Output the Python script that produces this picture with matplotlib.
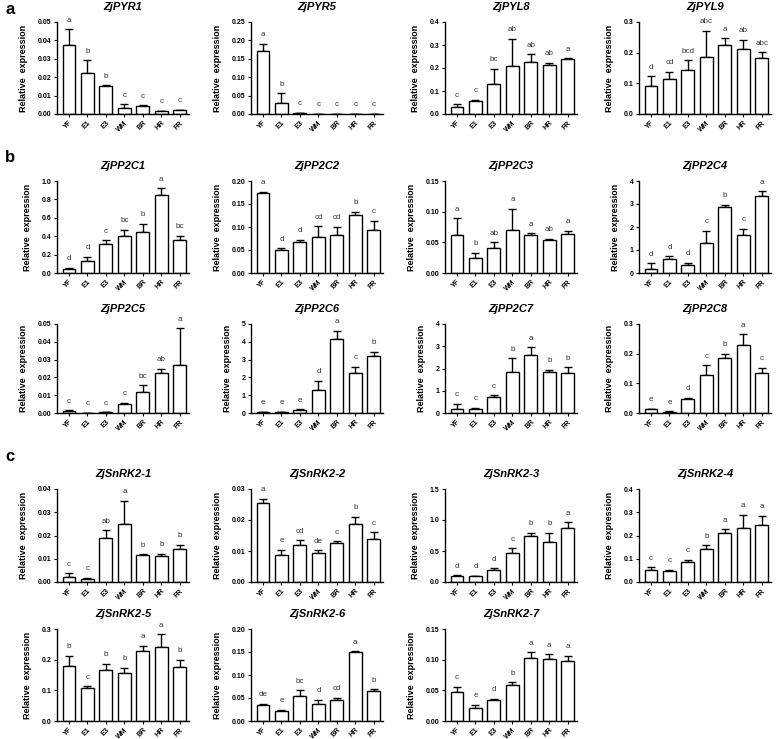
import numpy as np
import matplotlib
matplotlib.use("Agg")
import matplotlib.pyplot as plt

plt.rcParams['font.family'] = ['Liberation Sans', 'DejaVu Sans']

stages = ['YF', 'E1', 'E3', 'WM', 'BR', 'HR', 'FR']

genes = ['ZjPYR1', 'ZjPYR5', 'ZjPYL8', 'ZjPYL9',
         'ZjPP2C1', 'ZjPP2C2', 'ZjPP2C3', 'ZjPP2C4',
         'ZjPP2C5', 'ZjPP2C6', 'ZjPP2C7', 'ZjPP2C8',
         'ZjSnRK2-1', 'ZjSnRK2-2', 'ZjSnRK2-3', 'ZjSnRK2-4',
         'ZjSnRK2-5', 'ZjSnRK2-6', 'ZjSnRK2-7']

pyr1_mean = [0.0375, 0.0225, 0.0153, 0.0032, 0.0042, 0.0016, 0.0020]
pyr1_sd = [0.0085, 0.0068, 0.0002, 0.0020, 0.0006, 0.0002, 0.0004]
pyr1_let = ['a', 'b', 'b', 'c', 'c', 'c', 'c']

pyr5_mean = [0.171, 0.030, 0.002, 0.0005, 0.0003, 0.0003, 0.0003]
pyr5_sd = [0.020, 0.026, 0.002, 0.0, 0.0, 0.0, 0.0]
pyr5_let = ['a', 'b', 'c', 'c', 'c', 'c', 'c']

pyl8_mean = [0.030, 0.055, 0.130, 0.207, 0.225, 0.212, 0.238]
pyl8_sd = [0.012, 0.008, 0.067, 0.120, 0.035, 0.010, 0.005]
pyl8_let = ['c', 'c', 'bc', 'ab', 'ab', 'ab', 'a']

pyl9_mean = [0.092, 0.115, 0.144, 0.187, 0.224, 0.212, 0.183]
pyl9_sd = [0.031, 0.022, 0.031, 0.085, 0.023, 0.030, 0.018]
pyl9_let = ['d', 'cd', 'bcd', 'abc', 'a', 'ab', 'abc']

pp2c1_mean = [0.045, 0.135, 0.31, 0.405, 0.45, 0.845, 0.355]
pp2c1_sd = [0.013, 0.043, 0.045, 0.065, 0.085, 0.075, 0.05]
pp2c1_let = ['d', 'd', 'c', 'bc', 'b', 'a', 'bc']

pp2c2_mean = [0.173, 0.050, 0.068, 0.079, 0.083, 0.126, 0.093]
pp2c2_sd = [0.004, 0.004, 0.004, 0.023, 0.017, 0.007, 0.020]
pp2c2_let = ['a', 'd', 'd', 'cd', 'cd', 'b', 'c']

pp2c3_mean = [0.062, 0.025, 0.041, 0.070, 0.062, 0.053, 0.063]
pp2c3_sd = [0.027, 0.008, 0.009, 0.035, 0.003, 0.003, 0.006]
pp2c3_let = ['a', 'b', 'ab', 'a', 'a', 'ab', 'a']

pp2c4_mean = [0.18, 0.63, 0.35, 1.32, 2.87, 1.65, 3.35]
pp2c4_sd = [0.25, 0.09, 0.10, 0.51, 0.10, 0.28, 0.20]
pp2c4_let = ['d', 'd', 'd', 'c', 'b', 'c', 'a']

pp2c5_mean = [0.0012, 0.0001, 0.0003, 0.0050, 0.0120, 0.0222, 0.0272]
pp2c5_sd = [0.0004, 0.0, 0.0001, 0.0008, 0.0035, 0.0027, 0.0203]
pp2c5_let = ['c', 'c', 'c', 'c', 'bc', 'ab', 'a']

pp2c6_mean = [0.04, 0.04, 0.15, 1.30, 4.15, 2.22, 3.20]
pp2c6_sd = [0.02, 0.02, 0.05, 0.50, 0.48, 0.38, 0.23]
pp2c6_let = ['e', 'e', 'e', 'd', 'a', 'c', 'b']

pp2c7_mean = [0.20, 0.18, 0.70, 1.85, 2.60, 1.85, 1.82]
pp2c7_sd = [0.22, 0.05, 0.10, 0.60, 0.35, 0.10, 0.24]
pp2c7_let = ['c', 'c', 'c', 'b', 'a', 'b', 'b']

pp2c8_mean = [0.012, 0.004, 0.048, 0.128, 0.185, 0.230, 0.135]
pp2c8_sd = [0.002, 0.002, 0.004, 0.033, 0.015, 0.035, 0.017]
pp2c8_let = ['e', 'e', 'd', 'c', 'b', 'a', 'c']

snrk1_mean = [0.0020, 0.0015, 0.0189, 0.0248, 0.0117, 0.0111, 0.0140]
snrk1_sd = [0.0017, 0.0002, 0.0033, 0.0102, 0.0003, 0.0011, 0.0021]
snrk1_let = ['c', 'c', 'ab', 'a', 'b', 'b', 'b']

snrk2_mean = [0.0255, 0.0088, 0.0118, 0.0092, 0.0126, 0.0188, 0.0138]
snrk2_sd = [0.0013, 0.0016, 0.0017, 0.0011, 0.0005, 0.0022, 0.0022]
snrk2_let = ['a', 'e', 'cd', 'de', 'c', 'b', 'c']

snrk3_mean = [0.10, 0.09, 0.19, 0.47, 0.74, 0.65, 0.87]
snrk3_sd = [0.01, 0.008, 0.03, 0.075, 0.055, 0.14, 0.09]
snrk3_let = ['d', 'd', 'd', 'c', 'b', 'b', 'a']

snrk4_mean = [0.052, 0.049, 0.084, 0.140, 0.210, 0.233, 0.247]
snrk4_sd = [0.012, 0.003, 0.011, 0.018, 0.017, 0.055, 0.038]
snrk4_let = ['c', 'c', 'c', 'b', 'a', 'a', 'a']

snrk5_mean = [0.180, 0.108, 0.165, 0.155, 0.227, 0.240, 0.177]
snrk5_sd = [0.032, 0.005, 0.021, 0.019, 0.019, 0.043, 0.023]
snrk5_let = ['b', 'c', 'b', 'b', 'a', 'a', 'b']

snrk6_mean = [0.034, 0.022, 0.054, 0.036, 0.046, 0.150, 0.065]
snrk6_sd = [0.004, 0.003, 0.013, 0.010, 0.005, 0.002, 0.004]
snrk6_let = ['de', 'e', 'bc', 'd', 'cd', 'a', 'b']

snrk7_mean = [0.047, 0.021, 0.034, 0.059, 0.102, 0.101, 0.098]
snrk7_sd = [0.009, 0.005, 0.002, 0.004, 0.010, 0.008, 0.008]
snrk7_let = ['c', 'e', 'd', 'b', 'a', 'a', 'a']

y_max = [0.05, 0.25, 0.4, 0.3, 1.0, 0.20, 0.15, 4, 0.05, 5, 4, 0.3,
         0.04, 0.03, 1.5, 0.4, 0.3, 0.20, 0.15]
y_step = [0.01, 0.05, 0.1, 0.1, 0.2, 0.05, 0.05, 1, 0.01, 1, 1, 0.1,
          0.01, 0.01, 0.5, 0.1, 0.1, 0.05, 0.05]

means = [pyr1_mean, pyr5_mean, pyl8_mean, pyl9_mean,
         pp2c1_mean, pp2c2_mean, pp2c3_mean, pp2c4_mean,
         pp2c5_mean, pp2c6_mean, pp2c7_mean, pp2c8_mean,
         snrk1_mean, snrk2_mean, snrk3_mean, snrk4_mean,
         snrk5_mean, snrk6_mean, snrk7_mean]
sds = [pyr1_sd, pyr5_sd, pyl8_sd, pyl9_sd,
       pp2c1_sd, pp2c2_sd, pp2c3_sd, pp2c4_sd,
       pp2c5_sd, pp2c6_sd, pp2c7_sd, pp2c8_sd,
       snrk1_sd, snrk2_sd, snrk3_sd, snrk4_sd,
       snrk5_sd, snrk6_sd, snrk7_sd]
lets = [pyr1_let, pyr5_let, pyl8_let, pyl9_let,
        pp2c1_let, pp2c2_let, pp2c3_let, pp2c4_let,
        pp2c5_let, pp2c6_let, pp2c7_let, pp2c8_let,
        snrk1_let, snrk2_let, snrk3_let, snrk4_let,
        snrk5_let, snrk6_let, snrk7_let]

W, H = 778, 739
fig = plt.figure(figsize=(W / 100, H / 100), dpi=100)

col_left = [57, 251, 445, 639]
ax_w = 132
row_top = [22, 181, 324, 489, 629]
row_bot = [114, 273, 413, 582, 721]

x = np.arange(len(stages))
for i, g in enumerate(genes):
    r, c = divmod(i, 4)
    left = col_left[c]
    top, bot = row_top[r], row_bot[r]
    ax = fig.add_axes([left / W, (H - bot) / H, ax_w / W, (bot - top) / H])
    m = np.array(means[i])
    s = np.array(sds[i])
    ax.bar(x, m, width=0.7, color='white', edgecolor='black', linewidth=1.0, zorder=2)
    ax.errorbar(x, m, yerr=[np.zeros_like(s), s], fmt='none', ecolor='black',
                elinewidth=1.0, capsize=3, capthick=1.0, zorder=1)
    for xi, mi, si, lt in zip(x, m, s, lets[i]):
        ax.annotate(lt, (xi, mi + si), xytext=(0, 4), textcoords='offset points',
                    ha='center', va='bottom', fontsize=5.8, color='#333333')
    ax.set_xlim(-0.65, 6.5)
    ax.set_ylim(0, y_max[i])
    step = y_step[i]
    ticks = np.arange(0, y_max[i] + step / 2, step)
    ax.set_yticks(ticks)
    dec = max(0, int(-np.floor(np.log10(step) + 1e-9)))
    ax.set_yticklabels([f"{t:.{dec}f}" for t in ticks], fontsize=5, fontweight='bold')
    ax.set_xticks(x)
    ax.set_xticklabels(stages, rotation=45, ha='right', rotation_mode='anchor',
                       fontsize=5, fontweight='bold')
    ax.tick_params(axis='y', length=2.5, width=0.8, pad=1.5)
    ax.tick_params(axis='x', length=2, width=0.8, pad=2)
    for sp in ['top', 'right']:
        ax.spines[sp].set_visible(False)
    for sp in ['left', 'bottom']:
        ax.spines[sp].set_linewidth(1.0)
    ax.set_ylabel('Relative  expression', fontsize=6.5, fontweight='bold', labelpad=7)
    ax.set_title(g, fontsize=8, fontweight='bold', fontstyle='italic', pad=8.5)

fig.text(5 / W, 1 - 9 / H, 'a', fontsize=12, fontweight='bold', va='center', ha='left')
fig.text(5 / W, 1 - 157 / H, 'b', fontsize=12, fontweight='bold', va='center', ha='left')
fig.text(5 / W, 1 - 457 / H, 'c', fontsize=12, fontweight='bold', va='center', ha='left')

fig.savefig('out.png', dpi=100)
